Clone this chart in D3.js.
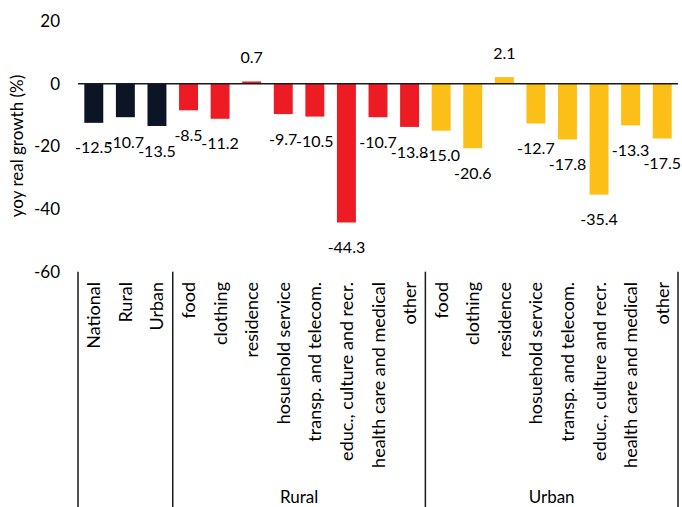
<!DOCTYPE html>
<html><head><meta charset="utf-8">
<script src="https://cdn.jsdelivr.net/npm/d3@7"></script>
<style>body{margin:0;background:#fff}svg{display:block}text{font-family:Lato,"Open Sans",sans-serif;fill:#000}</style>
</head><body>
<script>
const groups = ["", "", "", "Rural","Rural","Rural","Rural","Rural","Rural","Rural","Rural","Urban","Urban","Urban","Urban","Urban","Urban","Urban","Urban"];
const categories = ["National","Rural","Urban","food","clothing","residence","hosuehold service","transp. and telecom.","educ., culture and recr.","health care and medical","other","food","clothing","residence","hosuehold service","transp. and telecom.","educ., culture and recr.","health care and medical","other"];
const values = [-12.5,-10.7,-13.5,-8.5,-11.2,0.7,-9.7,-10.5,-44.3,-10.7,-13.8,-15.0,-20.6,2.1,-12.7,-17.8,-35.4,-13.3,-17.5];
const colorKeys = ["total","total","total","rural","rural","rural","rural","rural","rural","rural","rural","urban","urban","urban","urban","urban","urban","urban","urban"];
const yTicks = [20,0,-20,-40,-60];
const groupNames = ["Rural","Urban"];
const palette = {total:"#0c1526", rural:"#ed1c24", urban:"#fcbf17"};

(function(){
const W=682,H=507, mLeft=78, mRight=678, mTop=21, mBottom=271.7;
const svg=d3.select("body").append("svg").attr("width",W).attr("height",H);
const keys=categories.map((c,i)=>i);
const x=d3.scaleBand().domain(keys).range([mLeft,mRight]).paddingInner(0.4).paddingOuter(0.2);
const y=d3.scaleLinear().domain([-60,20]).range([mBottom,mTop]);

svg.append("g").selectAll("text").data(yTicks).join("text")
 .attr("x",60).attr("y",d=>y(d)).attr("dy","0.35em").attr("text-anchor","end")
 .style("font-size","17px").text(d=>d);
svg.append("text").attr("transform",`translate(23,146) rotate(-90)`)
 .attr("text-anchor","middle").style("font-size","17px").text("yoy real growth (%)");

svg.append("g").selectAll("rect").data(values).join("rect")
 .attr("x",(d,i)=>x(i)).attr("width",x.bandwidth())
 .attr("y",d=>y(Math.max(0,d))).attr("height",d=>Math.abs(y(d)-y(0)))
 .attr("fill",(d,i)=>palette[colorKeys[i]]);

svg.append("line").attr("x1",mLeft).attr("x2",mRight).attr("y1",y(0)).attr("y2",y(0))
 .attr("stroke","#1a1a1a").attr("stroke-width",1.5);

svg.append("g").selectAll("text").data(values).join("text")
 .attr("x",(d,i)=>x(i)+x.bandwidth()/2)
 .attr("y",d=>d<0? y(d)+25 : y(d)-24).attr("dy","0.35em")
 .attr("text-anchor","middle").style("font-size","16px").text(d=>d.toFixed(1));

svg.append("g").selectAll("text").data(categories).join("text")
 .attr("transform",(d,i)=>`translate(${x(i)+x.bandwidth()/2+6.5},282) rotate(-90)`)
 .attr("text-anchor","end").style("font-size","18px").text(d=>d);

const step=x.step();
const seps=[mLeft, mLeft+3*step, mLeft+11*step, mRight];
svg.append("g").selectAll("line").data(seps).join("line")
 .attr("x1",d=>d).attr("x2",d=>d).attr("y1",mBottom).attr("y2",H)
 .attr("stroke","#1a1a1a").attr("stroke-width",1.5);

svg.append("g").selectAll("text").data(groupNames).join("text")
 .attr("x",(d,i)=>(seps[i+1]+seps[i+2])/2).attr("y",503)
 .attr("text-anchor","middle").style("font-size","17px").text(d=>d);
})();
</script>
</body></html>
